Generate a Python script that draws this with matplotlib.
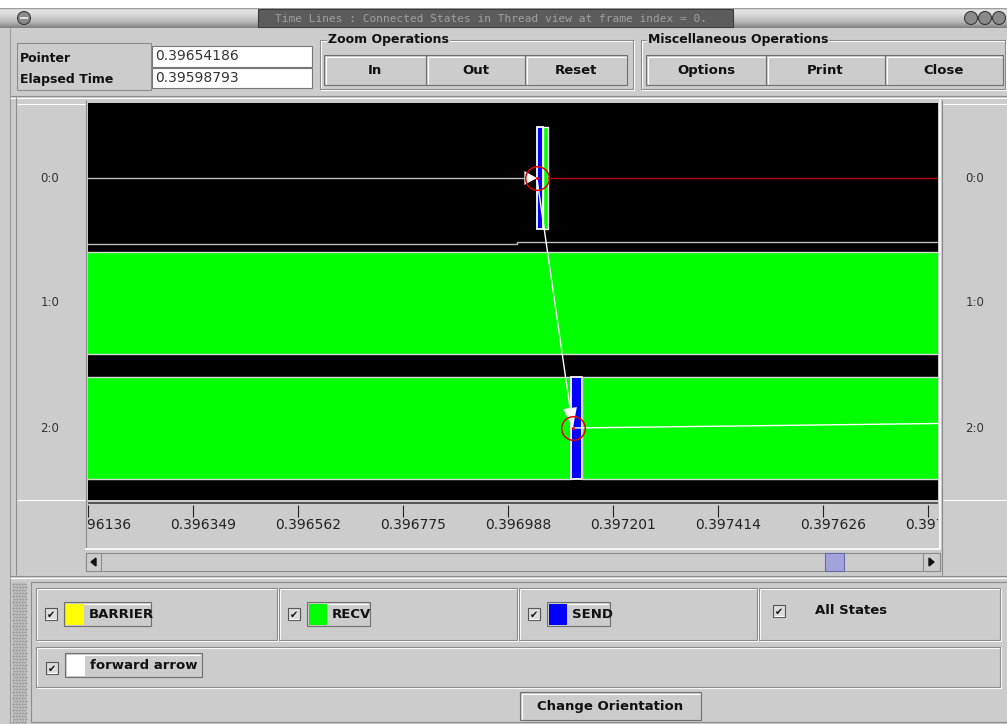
import matplotlib
matplotlib.use('Agg')
import numpy as np
import matplotlib.pyplot as plt
from matplotlib.patches import Rectangle, Circle, Polygon
import matplotlib.transforms as mtransforms

# ---------------- data ----------------
rows = ['0:0', '1:0', '2:0']
tick_values = [0.396136, 0.396349, 0.396562, 0.396775, 0.396988,
               0.397201, 0.397414, 0.397626, 0.397839]
view_start, view_end = 0.396136, 0.3978592
pointer_value = '0.39654186'
elapsed_value = '0.39598793'
window_title = 'Time Lines : Connected States in Thread view at frame index = 0.'

category_names = ['BARRIER', 'RECV', 'SEND']
category_colors = ['#ffff00', '#00ff00', '#0000ff']
arrow_name = 'forward arrow'
arrow_color = '#ffffff'

state_rows = [0, 0, 1, 2, 2, 2]
state_starts = [0.397046, 0.397058, 0.395900, 0.395900, 0.397115, 0.397137]
state_ends = [0.397058, 0.397068, 0.398000, 0.397115, 0.397137, 0.398000]
state_kinds = ['SEND', 'RECV', 'RECV', 'RECV', 'SEND', 'RECV']

arrow_start_t = [0.395900, 0.397046]
arrow_start_row = [0, 0]
arrow_end_t = [0.397046, 0.397119]
arrow_end_row = [0, 2]

red_line_t = [0.397068, 0.398000]
red_line_row = [0, 0]
row2_line_t = [0.397119, 0.398000]
row2_line_row = [2.0, 1.957]
row0_base_t = [0.395900, 0.397005, 0.397005, 0.398000]
row0_base_y = [0.528, 0.528, 0.512, 0.512]

zoom_buttons = ['In', 'Out', 'Reset']
misc_buttons = ['Options', 'Print', 'Close']

# ---------------- figure ----------------
W, H = 1007, 724
fig = plt.figure(figsize=(W / 100, H / 100), dpi=100)
BG = '#cccccc'
fig.patch.set_facecolor(BG)
BOLD = dict(family='DejaVu Sans', weight='bold')


def px_axes(x0, y0, x1, y1, **kw):
    return fig.add_axes([x0 / W, 1 - y1 / H, (x1 - x0) / W, (y1 - y0) / H], **kw)


ui = px_axes(0, 0, W, H)
ui.set_xlim(0, W)
ui.set_ylim(H, 0)
ui.axis('off')


def box(x0, y0, x1, y1, fc=BG, ec='none', lw=0.8, z=2):
    ui.add_patch(Rectangle((x0, y0), x1 - x0, y1 - y0, facecolor=fc,
                           edgecolor=ec, lw=lw, zorder=z))


def hl(x0, x1, y, c, lw=0.8, z=3):
    ui.plot([x0, x1], [y, y], color=c, lw=lw, zorder=z, solid_capstyle='butt')


def vl(x, y0, y1, c, lw=0.8, z=3):
    ui.plot([x, x], [y0, y1], color=c, lw=lw, zorder=z, solid_capstyle='butt')


def etched(x0, y0, x1, y1, z=3):
    box(x0, y0, x1, y1, fc='none', ec='#8c8c8c', z=z)
    box(x0 + 1, y0 + 1, x1 + 1, y1 + 1, fc='none', ec='#ffffff', z=z - 0.1)


def button(x0, y0, x1, y1, label, size=9.5, z=4):
    box(x0, y0, x1, y1, fc=BG, ec='#707070', z=z)
    hl(x0 + 1.5, x1 - 1.5, y0 + 1.5, '#ffffff', z=z + 0.1)
    vl(x0 + 1.5, y0 + 1.5, y1 - 1.5, '#ffffff', z=z + 0.1)
    if label:
        ui.text((x0 + x1) / 2, (y0 + y1) / 2 + 0.5, label, ha='center', va='center',
                fontsize=size, color='#111111', zorder=z + 0.2, **BOLD)


def checkbox(x0, y0, z=4):
    box(x0, y0, x0 + 12, y0 + 12, fc='#dcdcdc', ec='#555555', z=z)
    hl(x0 + 1, x0 + 11, y0 + 11, '#ffffff', z=z + 0.1)
    ui.text(x0 + 6, y0 + 6.5, '\u2714', ha='center', va='center', fontsize=7,
            color='#111111', zorder=z + 0.2, family='DejaVu Sans')


def swatch_button(x0, y0, label, color, z=4):
    w = 30 + 8.2 * len(label)
    x1, y1 = x0 + w, y0 + 24
    box(x0, y0, x1, y1, fc=BG, ec='#707070', z=z)
    hl(x0 + 1.5, x1 - 1.5, y0 + 1.5, '#ffffff', z=z + 0.1)
    box(x0 + 1.5, y0 + 1.5, x0 + 20, y1 - 1.5, fc=color, ec='none', z=z + 0.2)
    ui.text(x0 + 25, (y0 + y1) / 2 + 0.5, label, ha='left', va='center',
            fontsize=9.5, color='#111111', zorder=z + 0.3, **BOLD)


# --- title bar ---
box(0, 0, W, 8, fc='#ffffff', z=1)
ys = np.linspace(0, 1, 40)
shade = np.interp(ys, [0, 0.08, 0.3, 0.7, 1], [0.55, 0.9, 0.86, 0.72, 0.5])
grad = np.dstack([shade, shade, shade])[0][:, None, :]
ui.imshow(grad, extent=[0, W, 28, 8], aspect='auto', zorder=1.5, interpolation='bilinear')
ui.set_xlim(0, W)
ui.set_ylim(H, 0)
box(258, 9, 733, 27, fc='#5c5c5c', ec='#3c3c3c', z=2)
ui.text(275, 18.5, window_title, ha='left', va='center', fontsize=8,
        family='DejaVu Sans Mono', color='#a0a0a0', zorder=3)
ui.add_patch(Circle((24, 18), 6.5, facecolor='#8a8a8a', edgecolor='#3a3a3a', lw=0.8, zorder=3))
hl(20, 28, 18, '#eeeeee', lw=1.2, z=4)
for cx in (971, 985, 999):
    ui.add_patch(Circle((cx, 18), 6.5, facecolor='#8a8a8a', edgecolor='#3a3a3a', lw=0.8, zorder=3))

# --- top panel ---
vl(10, 28, 724, '#999999')
box(17, 43, 151, 90, fc=BG, ec='#8c8c8c', z=2)
box(152, 46, 312, 67, fc='#ffffff', ec='#777777', z=3)
box(152, 68, 312, 88, fc='#ffffff', ec='#777777', z=3)
ui.text(20, 59, 'Pointer', ha='left', va='center', fontsize=9, color='#111111', zorder=4, **BOLD)
ui.text(20, 80, 'Elapsed Time', ha='left', va='center', fontsize=9, color='#111111', zorder=4, **BOLD)
ui.text(155, 56.5, pointer_value, ha='left', va='center', fontsize=10, color='#333333', zorder=4)
ui.text(155, 78, elapsed_value, ha='left', va='center', fontsize=10, color='#333333', zorder=4)

etched(320, 40, 633, 89)
ui.text(328, 40, 'Zoom Operations', ha='left', va='center', fontsize=9, color='#111111',
        zorder=5, bbox=dict(facecolor=BG, edgecolor='none', pad=0.5), **BOLD)
zx = [324, 426, 525, 627]
for i, lab in enumerate(zoom_buttons):
    button(zx[i], 55, zx[i + 1], 85, lab)

etched(641, 40, 1005, 89)
ui.text(648, 40, 'Miscellaneous Operations', ha='left', va='center', fontsize=9,
        color='#111111', zorder=5, bbox=dict(facecolor=BG, edgecolor='none', pad=0.5), **BOLD)
mx = [646, 766, 885, 1003]
for i, lab in enumerate(misc_buttons):
    button(mx[i], 55, mx[i + 1], 85, lab)

# --- central panel frame ---
hl(10, W, 96, '#8c8c8c')
hl(10, W, 97.5, '#ffffff')
vl(16, 97, 575, '#8c8c8c')
hl(17, 85, 104, '#ffffff')
hl(943, W, 104, '#ffffff')
vl(85.5, 100, 549, '#8c8c8c')
vl(940, 100, 549, '#ffffff', lw=1.2)
vl(942, 100, 575, '#8c8c8c')
hl(17, 85, 500, '#ffffff')
hl(943, W, 500, '#ffffff')
hl(85, 940, 549, '#ffffff', lw=1.2)

# --- scrollbar ---
box(86, 553, 940, 571, fc=BG, ec='#8c8c8c', z=2)
box(86, 553, 101, 571, fc=BG, ec='#8c8c8c', z=3)
box(923, 553, 940, 571, fc=BG, ec='#8c8c8c', z=3)
ui.add_patch(Polygon([[96, 558], [96, 566], [91, 562]], closed=True, color='#111111', zorder=4))
ui.add_patch(Polygon([[929, 558], [929, 566], [934, 562]], closed=True, color='#111111', zorder=4))
frac0 = (view_start - 0.3877) / (0.3994 - 0.3877)
box(825, 553, 844, 571, fc='#a3a3dc', ec='#6a6aa8', z=3)

# --- bottom panel ---
hl(10, W, 576, '#8c8c8c')
hl(10, W, 577.5, '#ffffff')
box(12, 582, 26, 724, fc='#c4c4c4', z=2)
for yy in np.arange(584, 724, 3):
    ui.plot(np.arange(13, 26, 3) + (yy % 2), [yy] * len(np.arange(13, 26, 3)), ls='none',
            marker='s', ms=0.6, color='#9a9a9a', zorder=3)
box(31, 582, 1010, 722, fc='none', ec='#8c8c8c', z=3)
cells = [36, 279, 519, 759, 1002]
for i in range(4):
    etched(cells[i], 588, cells[i + 1] - 2, 640)
for i, (name, col) in enumerate(zip(category_names, category_colors)):
    checkbox(cells[i] + 9, 608)
    swatch_button(cells[i] + 28, 602, name, col)
checkbox(cells[3] + 14, 605)
ui.text(815, 611, 'All States', ha='left', va='center', fontsize=9.5, color='#111111', zorder=5, **BOLD)
etched(36, 647, 1000, 687)
checkbox(46, 662)
swatch_button(65, 653, arrow_name, arrow_color)
button(520, 692, 701, 720, 'Change Orientation', size=9.5)

# ---------------- main timeline canvas ----------------
ax = px_axes(88, 103, 938, 500)
ax.set_facecolor('#000000')
ax.set_xlim(view_start, view_end)
ax.set_ylim(2.576, -0.6)
ax.set_xticks([])
ax.set_yticks([])
for s in ax.spines.values():
    s.set_visible(False)

color_of = dict(zip(category_names, category_colors))
for r, s0, s1, kind in zip(state_rows, state_starts, state_ends, state_kinds):
    ec = '#ffffff' if kind == 'SEND' or r == 0 else '#d8d8d8'
    ax.barh(r, s1 - s0, left=s0, height=0.82, color=color_of[kind],
            edgecolor=ec, lw=1.3 if kind == 'SEND' else 1.0, zorder=2)

ax.plot(row0_base_t, row0_base_y, color='#bcbcbc', lw=1.0, zorder=3)
ax.plot(red_line_t, red_line_row, color='#c00000', lw=1.0, zorder=3)
ax.plot(row2_line_t, row2_line_row, color='#ffffff', lw=1.0, zorder=3)

arrow_line_colors = ['#bcbcbc', '#ffffff']
arrow_head_len = [0.9, 1.45]
for i in range(len(arrow_start_t)):
    ax.plot([arrow_start_t[i], arrow_end_t[i]], [arrow_start_row[i], arrow_end_row[i]],
            color=arrow_line_colors[i], lw=1.0, zorder=4)
    ax.annotate('', xy=(arrow_end_t[i], arrow_end_row[i]),
                xytext=(arrow_start_t[i], arrow_start_row[i]),
                arrowprops=dict(arrowstyle='-|>,head_length=%.2f,head_width=0.5' % arrow_head_len[i],
                                color='#ffffff', lw=0, shrinkA=0, shrinkB=0,
                                mutation_scale=10), zorder=5)

# highlighted arrow end points
ax.plot([arrow_start_t[1], arrow_end_t[1]], [arrow_start_row[1], arrow_end_row[1]], 'o',
        ms=17, mfc='none', mec='#e00000', mew=1.1, zorder=6)
ax.plot([arrow_start_t[1], arrow_end_t[1]], [arrow_start_row[1], arrow_end_row[1]], 'o',
        ms=2.2, color='#ff0000', mew=0, zorder=6)

# row labels (left and right panels)
lab_tr_left = mtransforms.blended_transform_factory(ui.transData, ax.transData)
for i, name in enumerate(rows):
    ui.text(50, i, name, transform=lab_tr_left, ha='center', va='center', fontsize=8.5,
            color='#333333', zorder=5)
    ui.text(975, i, name, transform=lab_tr_left, ha='center', va='center', fontsize=8.5,
            color='#333333', zorder=5)

# ---------------- time ruler ----------------
rx = px_axes(88, 500, 938, 548)
rx.set_facecolor(BG)
rx.set_xlim(view_start, view_end)
rx.set_ylim(548, 500)
rx.set_xticks([])
rx.set_yticks([])
for s in rx.spines.values():
    s.set_visible(False)
rx.axhline(503, color='#555555', lw=1.4)
rx.vlines(tick_values, 505, 517, color='#222222', lw=0.8)
lab_tr = mtransforms.offset_copy(rx.transData, fig=fig, x=10, y=0, units='dots')
for tv in tick_values:
    rx.text(tv, 525, '%.6f' % tv, transform=lab_tr, ha='center', va='center',
            fontsize=10, color='#222222', clip_on=True)

fig.savefig('out.png', dpi=100, facecolor=fig.get_facecolor())
